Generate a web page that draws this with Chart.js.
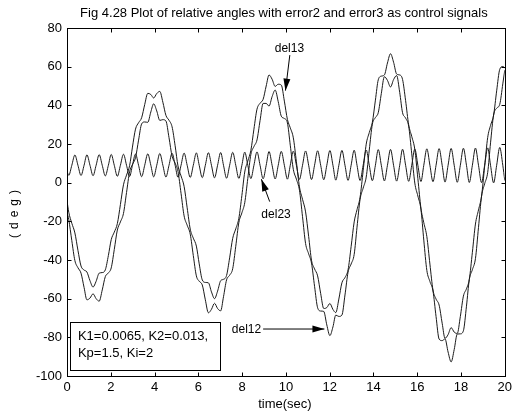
<!DOCTYPE html>
<html>
<head>
<meta charset="utf-8">
<script src="https://cdn.jsdelivr.net/npm/chart.js@4/dist/chart.umd.min.js"></script>
<style>
  body { margin: 0; background: #fff; }
  canvas { display: block; }
</style>
</head>
<body>
<canvas id="chart-angles" width="516" height="414"></canvas>
<script>
// time axis (sec), read at the ripple peaks / troughs / mid points
var time = [0, 0.08, 0.22, 0.36, 0.50, 0.64, 0.78, 0.91, 1.05, 1.19, 1.33, 1.47, 1.61, 1.75, 1.89, 2.02, 2.16, 2.30, 2.44, 2.58,
  2.72, 2.86, 2.99, 3.13, 3.27, 3.41, 3.55, 3.69, 3.83, 3.96, 4.10, 4.24, 4.38, 4.52, 4.66, 4.80, 4.94, 5.07, 5.21, 5.35,
  5.49, 5.63, 5.77, 5.91, 6.04, 6.18, 6.32, 6.46, 6.60, 6.74, 6.88, 7.02, 7.15, 7.29, 7.43, 7.57, 7.71, 7.85, 7.99, 8.12,
  8.26, 8.40, 8.54, 8.68, 8.82, 8.96, 9.10, 9.23, 9.37, 9.51, 9.65, 9.79, 9.93, 10.07, 10.20, 10.34, 10.48, 10.62, 10.76, 10.90,
  11.04, 11.17, 11.31, 11.45, 11.59, 11.73, 11.87, 12.01, 12.15, 12.28, 12.42, 12.56, 12.70, 12.84, 12.98, 13.12, 13.25, 13.39, 13.53, 13.67,
  13.81, 13.95, 14.09, 14.22, 14.36, 14.50, 14.64, 14.78, 14.92, 15.06, 15.20, 15.33, 15.47, 15.61, 15.75, 15.89, 16.03, 16.17, 16.30, 16.44,
  16.58, 16.72, 16.86, 17.00, 17.14, 17.27, 17.41, 17.55, 17.69, 17.83, 17.97, 18.11, 18.25, 18.38, 18.52, 18.66, 18.80, 18.94, 19.08, 19.22,
  19.35, 19.49, 19.63, 19.77, 19.91, 20];

var del12 = [-15.3, -19.1, -30.0, -40.3, -44.0, -46.8, -54.2, -60.6, -59.7, -57.5, -60.0, -61.3, -55.5, -48.6, -46.7, -44.1, -34.6, -24.5, -20.3, -15.9,
  -5.1, 5.6, 9.4, 12.9, 22.0, 30.4, 31.4, 31.2, 36.6, 40.8, 37.1, 32.2, 32.6, 31.9, 23.3, 13.7, 10.1, 5.9, -5.5, -17.2,
  -22.0, -26.6, -37.7, -48.2, -51.0, -52.9, -60.6, -67.3, -65.5, -62.4, -65.1, -66.3, -59.0, -50.3, -47.9, -44.5, -32.9, -20.7, -15.6, -10.4,
  2.2, 14.6, 18.7, 22.1, 32.1, 41.0, 41.0, 39.6, 44.5, 47.9, 41.9, 34.4, 33.2, 30.9, 19.4, 6.9, 1.8, -3.9, -17.6, -31.5,
  -36.8, -41.6, -53.6, -64.7, -66.4, -66.6, -73.6, -79.1, -74.6, -68.5, -69.2, -68.5, -58.1, -46.3, -42.1, -37.1, -23.0, -8.6, -2.8, 2.9,
  16.9, 30.2, 33.7, 36.2, 46.1, 54.8, 52.9, 49.5, 53.3, 55.4, 46.7, 36.2, 33.4, 29.2, 14.9, -0.2, -6.9, -13.8, -29.7, -45.4,
  -51.1, -56.0, -69.2, -80.9, -81.7, -80.8, -87.6, -92.7, -86.3, -78.3, -78.2, -76.6, -63.9, -50.1, -45.0, -39.3, -23.1, -7.0, -0.6, 5.3,
  20.6, 35.0, 38.5, 40.5, 51.1, 58.2];

var del13 = [-9.4, -15.3, -21.0, -26.0, -35.0, -43.1, -45.2, -46.2, -50.7, -54.0, -51.0, -46.8, -46.5, -45.1, -37.7, -29.5, -25.6, -21.2, -11.3, -1.1,
  3.9, 8.8, 18.4, 27.7, 31.0, 33.6, 40.4, 46.2, 45.6, 43.8, 46.1, 47.2, 41.6, 34.8, 32.3, 28.9, 19.1, 8.7, 3.5, -1.9,
  -13.0, -24.0, -28.7, -32.8, -42.0, -50.3, -51.6, -51.8, -56.5, -60.0, -56.1, -50.7, -50.0, -48.0, -38.9, -28.8, -23.9, -18.5, -6.6, 5.5,
  11.2, 16.7, 27.7, 38.0, 41.1, 43.1, 50.0, 55.7, 53.5, 49.8, 50.9, 50.5, 42.2, 32.7, 28.4, 23.2, 10.8, -2.2, -8.6, -15.1,
  -27.8, -40.1, -44.6, -48.2, -57.4, -65.1, -64.6, -62.5, -65.6, -67.2, -60.2, -51.8, -49.1, -45.1, -33.1, -20.3, -14.0, -7.5, 6.2, 19.9,
  25.9, 31.2, 42.7, 53.2, 55.1, 55.7, 61.9, 66.7, 62.3, 56.2, 55.7, 53.4, 42.4, 29.9, 23.9, 17.2, 2.1, -13.2, -20.7, -27.9,
  -42.1, -55.5, -60.2, -63.3, -72.7, -80.5, -78.6, -75.0, -77.3, -78.0, -69.2, -58.7, -54.9, -50.0, -36.0, -21.4, -14.1, -6.9, 8.4, 23.4,
  29.6, 34.9, 47.5, 58.6, 60.1, 59.4];

var del23 = [5.9, 3.8, 9, 14.3, 9, 3.7, 9, 14.4, 9, 3.6, 9, 14.5, 9, 3.5, 9, 14.6, 9, 3.3, 9, 14.7,
  9, 3.2, 9, 14.8, 9, 3.1, 9, 14.9, 9, 3.0, 9, 15.1, 9, 2.9, 9, 15.2, 9, 2.8, 9, 15.3,
  9, 2.7, 9, 15.4, 9, 2.6, 9, 15.5, 9, 2.5, 9, 15.6, 9, 2.3, 9, 15.7, 9, 2.2, 9, 15.8,
  9, 2.1, 9, 15.9, 9, 2.0, 9, 16.1, 9, 1.9, 9, 16.2, 9, 1.8, 9, 16.3, 9, 1.7, 9, 16.4,
  9, 1.6, 9, 16.5, 9, 1.5, 9, 16.6, 9, 1.3, 9, 16.7, 9, 1.2, 9, 16.8, 9, 1.1, 9, 16.9,
  9, 1.0, 9, 17.1, 9, 0.9, 9, 17.2, 9, 0.8, 9, 17.3, 9, 0.7, 9, 17.4, 9, 0.6, 9, 17.5,
  9, 0.5, 9, 17.6, 9, 0.3, 9, 17.7, 9, 0.2, 9, 17.8, 9, 0.1, 9, 17.9, 9, 0.0, 9, 18.0,
  9, -0.1, 9, 18.2, 9, 1.1];

var titleText = 'Fig 4.28 Plot of relative angles with error2 and error3 as control signals';
var xTitle = 'time(sec)';
var yTitle = '(deg)';
var boxLines = ['K1=0.0065, K2=0.013,', 'Kp=1.5, Ki=2'];

var FONT = "'Liberation Sans', Arial, sans-serif";

var toPoints = function(ys) {
  return time.map(function(t, i) { return { x: t, y: ys[i] }; });
};

var lineSet = function(label, ys) {
  return {
    label: label,
    data: toPoints(ys),
    borderColor: '#1a1a1a',
    borderWidth: 1,
    pointRadius: 0,
    fill: false,
    cubicInterpolationMode: 'monotone'
  };
};

var arrow = function(ctx, x1, y1, x2, y2) {
  var ang = Math.atan2(y2 - y1, x2 - x1);
  ctx.beginPath();
  ctx.moveTo(x1, y1);
  ctx.lineTo(x2, y2);
  ctx.stroke();
  ctx.beginPath();
  ctx.moveTo(x2, y2);
  ctx.lineTo(x2 - 12 * Math.cos(ang) + 3.5 * Math.sin(ang), y2 - 12 * Math.sin(ang) - 3.5 * Math.cos(ang));
  ctx.lineTo(x2 - 12 * Math.cos(ang) - 3.5 * Math.sin(ang), y2 - 12 * Math.sin(ang) + 3.5 * Math.cos(ang));
  ctx.closePath();
  ctx.fill();
};

// frame, inward ticks, titles and the text annotations
var matlabFrame = {
  id: 'matlabFrame',
  afterDatasetsDraw: function(chart) {
    var ctx = chart.ctx;
    var a = chart.chartArea;
    var xs = chart.scales.x, ys = chart.scales.y;
    var px = function(v) { return xs.getPixelForValue(v); };
    var py = function(v) { return ys.getPixelForValue(v); };

    ctx.save();
    ctx.strokeStyle = '#000';
    ctx.fillStyle = '#000';
    ctx.lineWidth = 1;

    var L = Math.round(a.left) + 0.5, R = Math.round(a.right) + 0.5;
    var T = Math.round(a.top) + 0.5, B = Math.round(a.bottom) + 0.5;
    ctx.strokeRect(L, T, R - L, B - T);

    ctx.beginPath();
    xs.ticks.forEach(function(t) {
      var x = Math.round(px(t.value)) + 0.5;
      ctx.moveTo(x, B); ctx.lineTo(x, B - 4);
      ctx.moveTo(x, T); ctx.lineTo(x, T + 4);
    });
    ys.ticks.forEach(function(t) {
      var y = Math.round(py(t.value)) + 0.5;
      ctx.moveTo(L, y); ctx.lineTo(L + 4, y);
      ctx.moveTo(R, y); ctx.lineTo(R - 4, y);
    });
    ctx.stroke();

    ctx.font = '13px ' + FONT;
    ctx.textBaseline = 'alphabetic';
    ctx.textAlign = 'center';
    ctx.fillText(titleText, (a.left + a.right) / 2 - 2, 17);
    ctx.fillText(xTitle, (a.left + a.right) / 2 - 1, 407.5);

    // y label
    ctx.save();
    ctx.translate(18, 238);
    ctx.rotate(-Math.PI / 2);
    ctx.textAlign = 'left';
    ctx.font = '12px ' + FONT;
    ctx.letterSpacing = '5px';
    ctx.fillText(yTitle, 0, 0);
    ctx.restore();

    // parameter box
    var bx1 = Math.round(px(0.14)) + 0.5, bx2 = Math.round(px(7.01)) + 0.5;
    var by1 = Math.round(py(-72.1)) + 0.5, by2 = Math.round(py(-96.9)) + 0.5;
    ctx.fillStyle = '#fff';
    ctx.fillRect(bx1, by1, bx2 - bx1, by2 - by1);
    ctx.strokeRect(bx1, by1, bx2 - bx1, by2 - by1);
    ctx.fillStyle = '#000';
    ctx.textAlign = 'left';
    ctx.font = '13px ' + FONT;
    ctx.fillText(boxLines[0], px(0.5), py(-81.4));
    ctx.fillText(boxLines[1], px(0.5), py(-90.4));

    // curve labels
    ctx.font = '12px ' + FONT;
    ctx.fillText('del13', px(9.49), py(67.8));
    arrow(ctx, px(10.18), py(66), px(9.98), py(47.6));
    ctx.fillText('del23', px(8.88), py(-18.3));
    arrow(ctx, px(9.26), py(-9.8), px(8.88), py(1.8));
    ctx.fillText('del12', px(7.53), py(-77.8));
    arrow(ctx, px(8.96), py(-75.7), px(11.76), py(-75.7));

    ctx.restore();
  }
};

var ctx = document.getElementById('chart-angles').getContext('2d');
window.anglesChart = new Chart(ctx, {
  type: 'line',
  data: {
    datasets: [
      lineSet('del12', del12),
      lineSet('del13', del13),
      lineSet('del23', del23)
    ]
  },
  options: {
    responsive: false,
    devicePixelRatio: 1,
    animation: false,
    layout: { padding: { left: 0, right: 7, top: 28, bottom: 0 } },
    plugins: {
      legend: { display: false },
      tooltip: { enabled: false },
      title: { display: false }
    },
    scales: {
      x: {
        type: 'linear',
        min: 0,
        max: 20,
        afterFit: function(scale) { scale.height = 38; },
        ticks: { stepSize: 2, color: '#000', padding: 4, maxRotation: 0, font: { family: FONT, size: 13 } },
        grid: { drawOnChartArea: false, drawTicks: false },
        border: { display: false }
      },
      y: {
        min: -100,
        max: 80,
        afterFit: function(scale) { scale.width = 67; },
        ticks: { stepSize: 20, color: '#000', padding: 5, font: { family: FONT, size: 13 } },
        grid: { drawOnChartArea: false, drawTicks: false },
        border: { display: false }
      }
    }
  },
  plugins: [matlabFrame]
});
</script>
</body>
</html>
